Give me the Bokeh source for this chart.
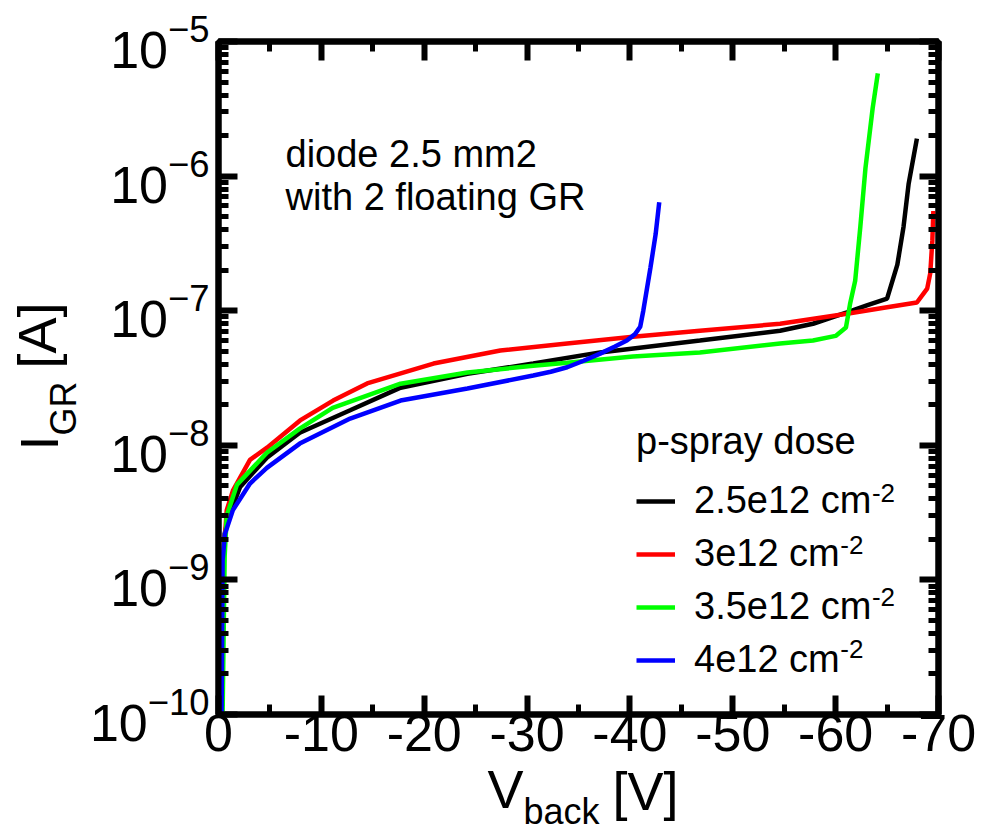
from bokeh.plotting import figure
from bokeh.models import (Range1d, LinearAxis, LogTicker, SingleIntervalTicker,
                          Label, Legend, LegendItem, CustomJSTickFormatter, Title)
from bokeh.embed import file_html
from bokeh.resources import INLINE

# ---------------- data ----------------
v_black = [-0.2, -0.4, -0.6, -0.95, -2.1, -4.7, -7.9, -12.8, -17.7, -24.2, -30.6, -37.1,
           -46.8, -54.6, -57.8, -61.1, -63.1, -65.0, -66.0, -66.6, -67.1, -67.9]
i_black = [1e-10, 1.0e-9, 2.2e-9, 2.9e-9, 4.9e-9, 8.1e-9, 1.24e-8, 1.82e-8, 2.68e-8, 3.4e-8,
           4.05e-8, 4.9e-8, 6.0e-8, 7.1e-8, 8.0e-8, 9.7e-8, 1.1e-7, 1.23e-7, 2.2e-7, 4.2e-7,
           8.8e-7, 1.9e-6]

v_red = [-0.3, -0.5, -0.8, -1.4, -3.06, -4.72, -7.93, -11.14, -14.45, -20.9, -27.4, -33.9,
         -40.3, -46.8, -54.6, -61.1, -65.0, -67.9, -68.9, -69.2, -69.4, -69.5]
i_red = [1e-10, 1.5e-9, 3.3e-9, 4.6e-9, 7.8e-9, 9.6e-9, 1.53e-8, 2.15e-8, 2.88e-8, 4.05e-8,
         5.06e-8, 5.7e-8, 6.4e-8, 7.1e-8, 8.0e-8, 9.5e-8, 1.06e-7, 1.15e-7, 1.46e-7, 1.9e-7,
         3.3e-7, 5.5e-7]

v_green = [-0.4, -0.6, -0.8, -1.8, -4.7, -7.9, -11.1, -17.7, -24.2, -30.6, -33.9, -40.3,
           -46.8, -54.6, -57.8, -60.0, -61.0, -61.4, -61.9, -62.4, -62.9, -63.6, -64.1]
i_green = [1e-10, 1.5e-9, 3.0e-9, 5.1e-9, 8.8e-9, 1.33e-8, 1.9e-8, 2.87e-8, 3.47e-8, 3.9e-8,
           4.1e-8, 4.57e-8, 4.9e-8, 5.7e-8, 6.0e-8, 6.5e-8, 7.5e-8, 1.12e-7, 1.67e-7, 4.2e-7,
           1.15e-6, 3.2e-6, 5.8e-6]

v_blue = [-0.3, -0.4, -0.63, -1.4, -3.06, -4.7, -7.9, -12.8, -17.7, -24.2, -30.6, -32.3,
          -33.9, -35.5, -37.1, -38.5, -39.7, -40.5, -41.0, -41.3, -42.0, -42.5, -42.85]
i_blue = [1e-10, 1.4e-9, 2.2e-9, 3.3e-9, 5.2e-9, 6.8e-9, 1.03e-8, 1.58e-8, 2.15e-8, 2.64e-8,
          3.3e-8, 3.52e-8, 3.8e-8, 4.25e-8, 4.8e-8, 5.4e-8, 6.0e-8, 6.7e-8, 7.6e-8, 1.0e-7,
          2.1e-7, 3.7e-7, 6.4e-7]

series_labels = ["2.5e12 cm", "3e12 cm", "3.5e12 cm", "4e12 cm"]
series_sup = "-2"
series_colors = ["#000000", "#ff0000", "#00ff00", "#0000ff"]
legend_title = "p-spray dose"
note_lines = ["diode 2.5 mm2", "with 2 floating GR"]

FONT = "Liberation Sans"

# ---------------- figure ----------------
W, H = 995, 831
ML, MR, MT, MB = 218, 57, 41, 117
p = figure(width=W, height=H, x_range=Range1d(0, -70), y_range=Range1d(1e-10, 1e-5),
           y_axis_type="log", output_backend="svg", toolbar_location=None,
           min_border_left=ML, min_border_right=MR, min_border_top=MT, min_border_bottom=MB)
p.grid.visible = False
p.background_fill_color = "white"
p.border_fill_color = "white"
p.outline_line_color = "black"
p.outline_line_width = 6

bottom_axis = p.below[0]
left_axis = p.left[0]
xt = SingleIntervalTicker(interval=10, num_minor_ticks=2)
yt = LogTicker(num_minor_ticks=10)
bottom_axis.ticker = xt
bottom_axis.formatter = CustomJSTickFormatter(code="return tick.toFixed(0)")
left_axis.ticker = yt
blank = CustomJSTickFormatter(code="return ''")
top_axis = LinearAxis(ticker=xt, formatter=blank)
right_axis = LinearAxis(ticker=yt, formatter=blank)
p.add_layout(top_axis, "above")
p.add_layout(right_axis, "right")


def style(ax, labels):
    ax.axis_line_width = 6
    ax.axis_line_color = "black"
    ax.major_tick_in = 19
    ax.major_tick_out = 0
    ax.minor_tick_in = 10
    ax.minor_tick_out = 0
    ax.major_tick_line_width = 6
    ax.minor_tick_line_width = 5
    ax.major_tick_line_color = "black"
    ax.minor_tick_line_color = "black"
    ax.major_label_text_font = FONT
    ax.major_label_text_color = "black"
    ax.axis_label = None
    if labels:
        ax.major_label_text_font_size = "52px"
    else:
        ax.major_label_text_font_size = "1px"
        ax.major_label_standoff = 0


style(bottom_axis, True)
style(left_axis, True)
style(top_axis, False)
style(right_axis, False)
bottom_axis.major_label_standoff = 0
left_axis.major_label_standoff = 9

# ---------------- curves ----------------
xs = [v_black, v_red, v_green, v_blue]
ys = [i_black, i_red, i_green, i_blue]
renderers = []
for xv, yv, c in zip(xs, ys, series_colors):
    renderers.append(p.line(xv, yv, line_color=c, line_width=4.5))

# ---------------- legend ----------------
FB = H - MB


def sx(px):
    return px - ML


def sy(py):
    return FB - py


legend = Legend(items=[LegendItem(label=l, renderers=[r]) for l, r in zip(series_labels, renderers)],
                location=(sx(636), 33), title=legend_title,
                title_text_font=FONT, title_text_font_size="38px", title_text_font_style="normal",
                title_text_color="black",
                label_text_font=FONT, label_text_font_size="38px", label_text_color="black",
                glyph_width=39, glyph_height=20, label_standoff=19, spacing=10,
                padding=0, margin=0, title_standoff=16,
                border_line_color=None, background_fill_alpha=0)
p.add_layout(legend)

# superscripts of the legend labels (Arial-metric advance widths)
adv = {"0": .556, "1": .556, "2": .556, "3": .556, "4": .556, "5": .556, ".": .278,
       "e": .556, " ": .278, "c": .5, "m": .833}
label_x0 = 636 + 39 + 19
for k, labtxt in enumerate(series_labels):
    wdt = sum(adv[ch] for ch in labtxt) * 38
    p.add_layout(Label(x=sx(label_x0 + wdt), y=sy(492 + 52 * k), x_units="screen", y_units="screen",
                       text=series_sup, text_font=FONT, text_font_size="26px",
                       text_baseline="middle", text_align="left", text_color="black"))

# ---------------- annotation text ----------------
for k, line in enumerate(note_lines):
    p.add_layout(Label(x=sx(285), y=sy(153 + 43 * k), x_units="screen", y_units="screen",
                       text=line, text_font=FONT, text_font_size="38px",
                       text_baseline="middle", text_align="left", text_color="black"))


# ---------------- axis titles (with subscripts), as side-panel titles ----------------
def title(text, size, offset, valign, standoff, place):
    t = Title(text=text, align="left", offset=offset, vertical_align=valign, standoff=standoff,
              text_font=FONT, text_font_size=size, text_font_style="normal", text_color="black")
    p.add_layout(t, place)


# y: I_GR [A]   (left panel, stacked outward from the axis)
title("GR", "36px", 279, "middle", 4, "left")
title("I", "54px", 264, "middle", -60, "left")
title("[A]", "54px", 346, "middle", -60, "left")
# x: V_back [V]  (below panel)
title(" ", "10px", 0, "middle", 21, "below")
title("V", "54px", 269, "middle", -60, "below")
title("[V]", "54px", 394, "middle", -60, "below")
title("back", "36px", 305, "bottom", -5, "below")

open("out.html", "w").write(file_html(p, INLINE))
